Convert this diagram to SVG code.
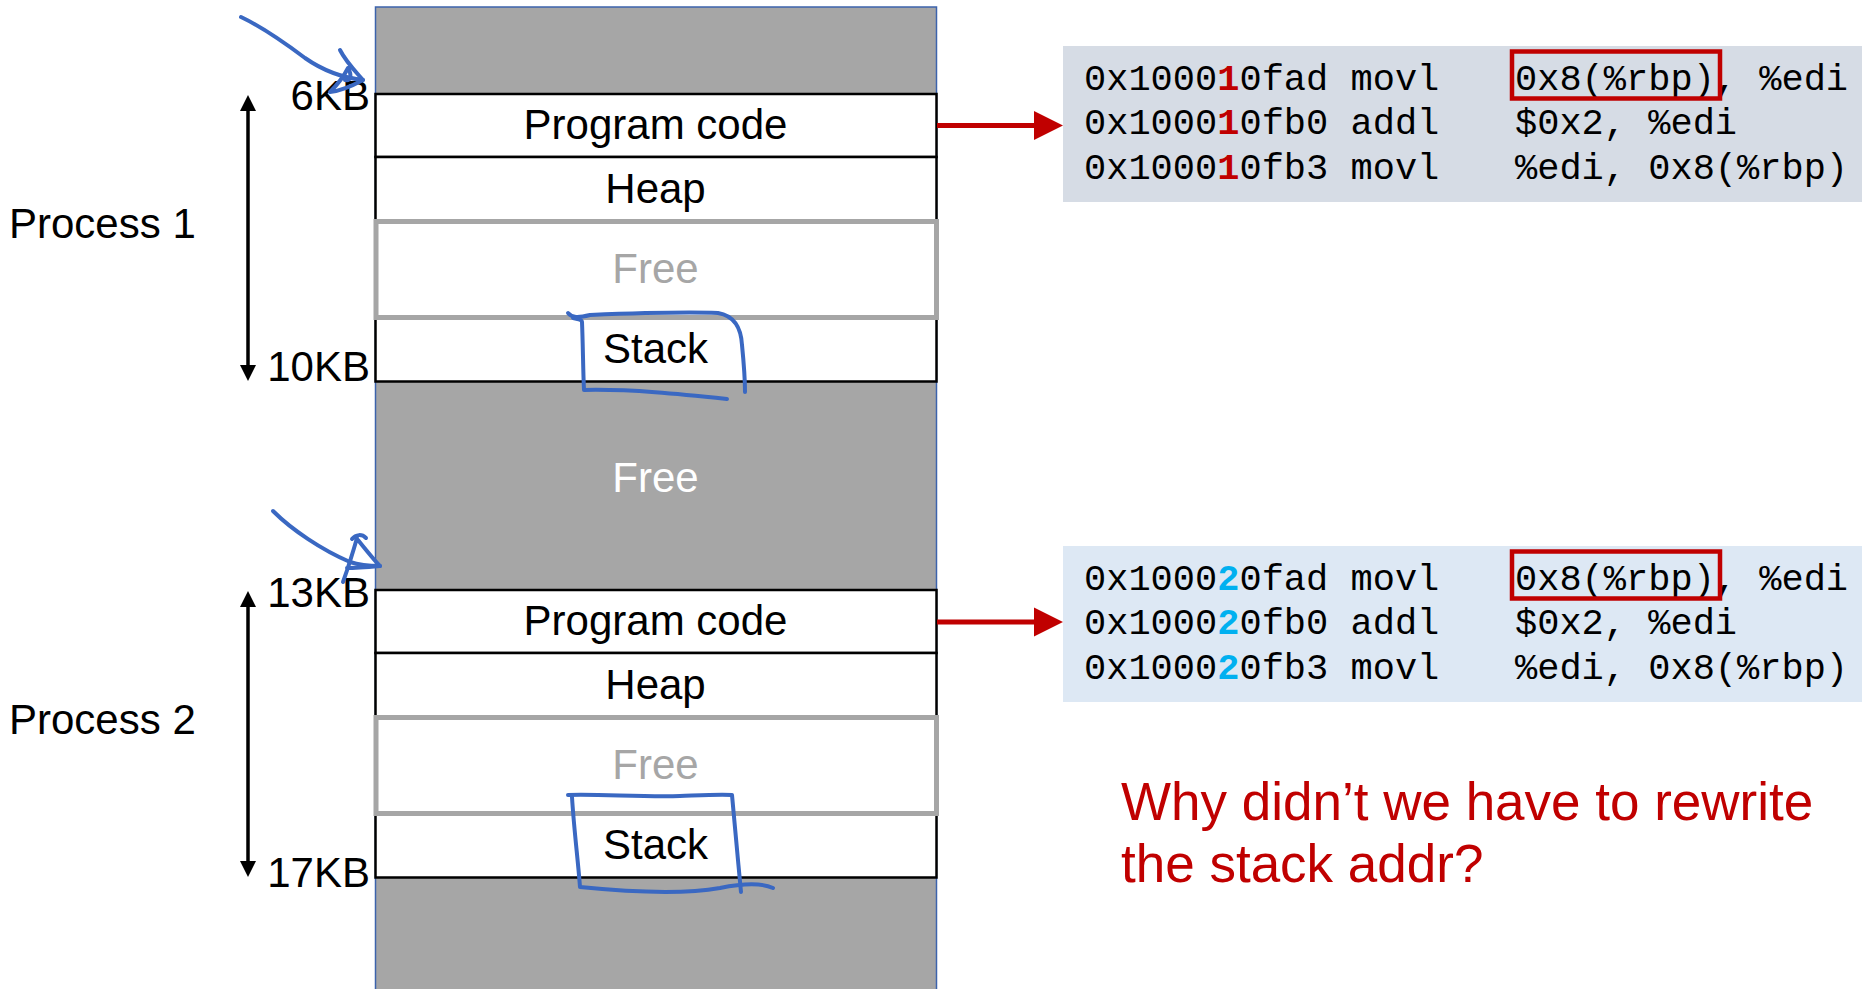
<svg xmlns="http://www.w3.org/2000/svg" width="1862" height="989" viewBox="0 0 1862 989">
<style>
.lbl{font-family:"Liberation Sans",Arial,Helvetica,sans-serif;font-size:42px;fill:#000}
.mid{text-anchor:middle}
.end{text-anchor:end}
.wt{fill:#fff}
.gt{fill:#A6A6A6}
.seg{fill:#fff;stroke:#000;stroke-width:2.5}
.free{fill:#fff;stroke:#A6A6A6;stroke-width:5}
.code{font-family:"Liberation Mono","Courier New",monospace;font-size:37px;fill:#000}
.hl{fill:none;stroke:#C00000;stroke-width:4.5}
.ink{fill:none;stroke:#3A68C2;stroke-width:4;stroke-linecap:round;stroke-linejoin:round}
.q{font-family:"Liberation Sans",Arial,Helvetica,sans-serif;font-size:53px;fill:#C00000}
</style>
<rect width="1862" height="989" fill="#fff"/>
<g id="memory">
<rect x="375.5" y="7" width="561" height="990" fill="#A6A6A6" stroke="#3C63AC" stroke-width="1.5"/>
<text class="lbl mid wt" x="655.5" y="492">Free</text>
</g>
<g id="process1">
<rect class="seg" x="375.5" y="94" width="561" height="63"/>
<text class="lbl mid" x="655.5" y="139">Program code</text>
<rect class="seg" x="375.5" y="157" width="561" height="64"/>
<text class="lbl mid" x="655.5" y="203">Heap</text>
<rect class="seg" x="375.5" y="317.5" width="561" height="64"/>
<text class="lbl mid" x="655.5" y="363">Stack</text>
<rect class="free" x="376" y="221.5" width="560.5" height="96"/>
<text class="lbl mid gt" x="655.5" y="283">Free</text>
</g>
<g id="process2" transform="translate(0,496)">
<rect class="seg" x="375.5" y="94" width="561" height="63"/>
<text class="lbl mid" x="655.5" y="139">Program code</text>
<rect class="seg" x="375.5" y="157" width="561" height="64"/>
<text class="lbl mid" x="655.5" y="203">Heap</text>
<rect class="seg" x="375.5" y="317.5" width="561" height="64"/>
<text class="lbl mid" x="655.5" y="363">Stack</text>
<rect class="free" x="376" y="221.5" width="560.5" height="96"/>
<text class="lbl mid gt" x="655.5" y="283">Free</text>
</g>
<g id="labels">
<text class="lbl end" x="370" y="110">6KB</text>
<text class="lbl end" x="370" y="381">10KB</text>
<text class="lbl end" x="370" y="607">13KB</text>
<text class="lbl end" x="370" y="887">17KB</text>
<text class="lbl" x="9" y="238">Process 1</text>
<text class="lbl" x="9" y="734">Process 2</text>
</g>
<g id="code1">
<rect x="1063" y="46" width="800" height="156" fill="#D6DCE5"/>
<text class="code" x="1084" y="90">0x1000<tspan fill="#C00000" font-weight="bold">1</tspan>0fad movl</text>
<text class="code" x="1084" y="134">0x1000<tspan fill="#C00000" font-weight="bold">1</tspan>0fb0 addl</text>
<text class="code" x="1084" y="179">0x1000<tspan fill="#C00000" font-weight="bold">1</tspan>0fb3 movl</text>
<text class="code" x="1515" y="90">0x8(%rbp), %edi</text>
<text class="code" x="1515" y="134">$0x2, %edi</text>
<text class="code" x="1515" y="179">%edi, 0x8(%rbp)</text>
<rect class="hl" x="1512" y="51.5" width="208" height="47"/>
</g>
<g id="code2">
<rect x="1063" y="546" width="800" height="156" fill="#DDE8F4"/>
<text class="code" x="1084" y="590">0x1000<tspan fill="#00B0F0" font-weight="bold">2</tspan>0fad movl</text>
<text class="code" x="1084" y="634">0x1000<tspan fill="#00B0F0" font-weight="bold">2</tspan>0fb0 addl</text>
<text class="code" x="1084" y="679">0x1000<tspan fill="#00B0F0" font-weight="bold">2</tspan>0fb3 movl</text>
<text class="code" x="1515" y="590">0x8(%rbp), %edi</text>
<text class="code" x="1515" y="634">$0x2, %edi</text>
<text class="code" x="1515" y="679">%edi, 0x8(%rbp)</text>
<rect class="hl" x="1512" y="551.5" width="208" height="47"/>
</g>
<g id="question">
<text class="q" x="1121" y="820">Why didn’t we have to rewrite</text>
<text class="q" x="1121" y="882">the stack addr?</text>
</g>
<g id="connectors">
<line x1="248" y1="108" x2="248" y2="368" stroke="#000" stroke-width="3.5"/>
<polygon points="248,95 256,111 240,111" fill="#000"/>
<polygon points="248,381 256,365 240,365" fill="#000"/>
<line x1="248" y1="604" x2="248" y2="864" stroke="#000" stroke-width="3.5"/>
<polygon points="248,591 256,607 240,607" fill="#000"/>
<polygon points="248,877 256,861 240,861" fill="#000"/>
<line x1="937" y1="125.5" x2="1036" y2="125.5" stroke="#C00000" stroke-width="5"/>
<polygon points="1034,111 1063,125.5 1034,140" fill="#C00000"/>
<line x1="937" y1="622" x2="1036" y2="622" stroke="#C00000" stroke-width="5"/>
<polygon points="1034,607.5 1063,622 1034,636.5" fill="#C00000"/>
</g>
<g id="annotations">
<path class="ink" d="M241,17 C262,27 285,43 305,58 C325,72 345,78 363,80"/>
<path class="ink" d="M340,50 C346,62 356,72 363,80 C352,86 340,91 330,92 C338,84 344,76 348,68 C352,75 351,81 345,80"/>
<path class="ink" d="M273,511 C292,530 322,550 350,562 C362,566 372,566 380,566"/>
<path class="ink" d="M358,540 C366,550 374,560 380,566 C368,567 356,568 347,568 M357,538 C353,552 348,568 343,582 M352,539 C356,534 362,534 366,538"/>
<path class="ink" d="M568,313 C572,318 578,318 590,315 C640,313 690,312 718,313 C735,316 741,328 742,345 C744,365 745,380 745,392"/>
<path class="ink" d="M573,318 C578,319 582,320 582,322 C583,345 583,370 584,390 C630,389 680,394 727,399"/>
<path class="ink" d="M568,795 C600,794 640,797 680,796 C705,795 722,794 732,795 C735,830 738,860 741,892"/>
<path class="ink" d="M572,797 C574,830 578,860 580,887 C620,891 680,895 720,888 C740,884 760,882 773,888"/>
</g>
</svg>
